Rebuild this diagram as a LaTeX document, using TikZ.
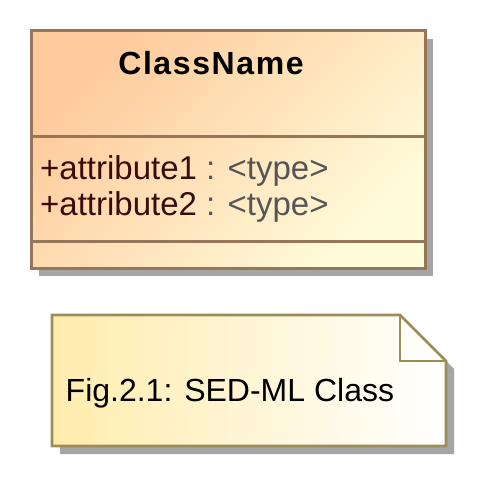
\documentclass[tikz,border=0pt]{standalone}
\usepackage{fontspec}
\setmainfont{Liberation Sans}
\newfontfamily\headfont[LetterSpace=5]{Liberation Sans}
\definecolor{classedge}{RGB}{150,118,88}
\definecolor{classtop}{RGB}{255,202,155}
\definecolor{classbot}{RGB}{255,252,218}
\definecolor{noteedge}{RGB}{155,140,90}
\definecolor{noteleft}{RGB}{255,236,172}
\definecolor{noteright}{RGB}{255,255,255}
\definecolor{shadowgray}{RGB}{165,165,165}
\definecolor{attrname}{RGB}{58,12,12}
\definecolor{attrtype}{RGB}{85,85,85}
\begin{document}
\begin{tikzpicture}[x=1pt,y=-1pt,
  shadowfill/.style={fill=shadowgray,draw=none},
  classbox/.style={rectangle,draw=classedge,line width=3pt,
    top color=classtop,bottom color=classbot,shading angle=45,
    minimum width=394pt,minimum height=237pt,inner sep=0pt},
  divider/.style={draw=classedge,line width=3pt},
  noteline/.style={draw=noteedge,line width=2.8pt,line join=miter},
  notebody/.style={left color=noteleft,right color=noteright},
  txt/.style={inner sep=0pt,font=\fontsize{32}{36}\selectfont},
  attrtxt/.style={txt,anchor=base west,font=\fontsize{33}{36}\selectfont},
]
\useasboundingbox (0,0) rectangle (478,478);

% class box with drop shadow
\fill[shadowfill] (39,39) rectangle (433,276);
\node[classbox] (cls) at (228,149.5) {};
\draw[divider] (cls.west |- 0,137) -- (cls.east |- 0,137);
\draw[divider] (cls.west |- 0,241) -- (cls.east |- 0,241);
\node[txt,anchor=base,font=\headfont\bfseries\fontsize{32}{36}\selectfont] (cname) at (211,75) {ClassName};
\node[attrtxt] (attr1) at (40,179)
  {\textcolor{attrname}{+attribute1} \textcolor{attrtype}{: <type>}};
\node[attrtxt] (attr2) at (40,215)
  {\textcolor{attrname}{+attribute2} \textcolor{attrtype}{: <type>}};

% note with folded corner and drop shadow
\coordinate (nA) at (52,315);
\coordinate (nB) at (400,315);
\coordinate (nC) at (446,361);
\coordinate (nD) at (446,446);
\coordinate (nE) at (52,446);
\coordinate (nF) at (400,361);
\fill[shadowfill] (60,323) -- (408,323) -- (454,369) -- (454,454) -- (60,454) -- cycle;
\shade[notebody] (nA) -- (nB) -- (nC) -- (nD) -- (nE) -- cycle;
\draw[noteline] (nA) -- (nB) -- (nC) -- (nD) -- (nE) -- cycle;
\draw[noteline] (nB) -- (nF) -- (nC);
\node[txt,anchor=base west] (notetext) at (65.5,401) {Fig.2.1: SED-ML Class};
\end{tikzpicture}
\end{document}
